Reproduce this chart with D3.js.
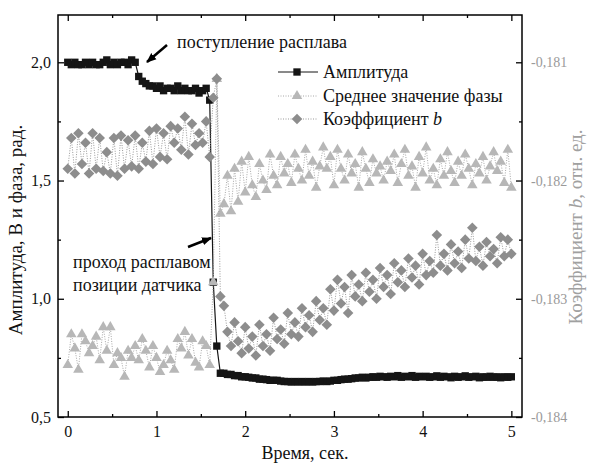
<!DOCTYPE html>
<html><head><meta charset="utf-8">
<script src="https://cdn.jsdelivr.net/npm/d3@7"></script>
<style>body{margin:0;background:#fff} svg{display:block}</style>
</head><body><svg id="c" width="590" height="463"></svg>
<script>
// ---- data ----
const times=[0,0.04,0.08,0.12,0.16,0.2,0.24,0.28,0.32,0.36,0.4,0.44,0.48,0.52,0.56,0.6,0.64,0.68,0.72,0.76,
0.8,0.84,0.88,0.92,0.96,1,1.04,1.08,1.12,1.16,1.2,1.24,1.28,1.32,1.36,1.4,1.44,1.48,1.52,1.56,
1.6,1.64,1.68,1.72,1.76,1.8,1.84,1.88,1.92,1.96,2,2.04,2.08,2.12,2.16,2.2,2.24,2.28,2.32,2.36,
2.4,2.44,2.48,2.52,2.56,2.6,2.64,2.68,2.72,2.76,2.8,2.84,2.88,2.92,2.96,3,3.04,3.08,3.12,3.16,
3.2,3.24,3.28,3.32,3.36,3.4,3.44,3.48,3.52,3.56,3.6,3.64,3.68,3.72,3.76,3.8,3.84,3.88,3.92,3.96,
4,4.04,4.08,4.12,4.16,4.2,4.24,4.28,4.32,4.36,4.4,4.44,4.48,4.52,4.56,4.6,4.64,4.68,4.72,4.76,
4.8,4.84,4.88,4.92,4.96,5];
const amplitude=[2.00,1.99,2.00,1.99,1.99,2.00,1.99,2.00,1.99,1.99,2.00,2.01,1.99,2.00,1.99,2.00,2.00,1.99,2.01,2.00,
1.94,1.92,1.91,1.90,1.90,1.89,1.90,1.88,1.89,1.89,1.88,1.90,1.88,1.89,1.88,1.88,1.89,1.87,1.88,1.89,
1.84,1.07,0.80,0.685,0.685,0.68,0.68,0.675,0.675,0.67,0.67,0.668,0.665,0.665,0.66,0.66,0.658,0.655,0.655,0.655,
0.652,0.65,0.65,0.648,0.65,0.648,0.65,0.648,0.65,0.648,0.65,0.65,0.652,0.65,0.652,0.655,0.655,0.658,0.66,0.66,
0.662,0.665,0.665,0.668,0.665,0.668,0.67,0.668,0.672,0.67,0.668,0.672,0.67,0.675,0.668,0.672,0.67,0.675,0.668,0.672,
0.67,0.672,0.668,0.67,0.674,0.668,0.672,0.67,0.666,0.672,0.668,0.67,0.674,0.668,0.67,0.672,0.666,0.67,0.668,0.672,
0.668,0.67,0.666,0.67,0.668,0.67];
const phase=[0.72,0.85,0.79,0.70,0.85,0.82,0.77,0.80,0.84,0.74,0.88,0.78,0.88,0.72,0.77,0.75,0.67,0.78,0.75,0.80,
0.74,0.83,0.78,0.71,0.80,0.75,0.69,0.72,0.78,0.74,0.70,0.83,0.79,0.86,0.76,0.83,0.73,0.71,0.82,0.80,
0.72,1.07,1.93,1.36,1.40,1.52,1.37,1.55,1.41,1.58,1.45,1.60,1.48,1.43,1.57,1.50,1.46,1.61,1.52,1.48,
1.60,1.53,1.57,1.49,1.61,1.55,1.50,1.63,1.52,1.58,1.47,1.56,1.64,1.55,1.60,1.48,1.63,1.55,1.50,1.61,
1.53,1.57,1.47,1.62,1.55,1.49,1.59,1.53,1.56,1.50,1.58,1.54,1.61,1.49,1.57,1.63,1.52,1.56,1.47,1.60,
1.53,1.64,1.50,1.55,1.48,1.59,1.52,1.62,1.54,1.49,1.58,1.52,1.61,1.55,1.48,1.57,1.53,1.60,1.50,1.56,
1.62,1.54,1.58,1.49,1.63,1.47];
const coefB=[-0.18190,-0.18164,-0.18194,-0.18160,-0.18186,-0.18168,-0.18194,-0.18160,-0.18190,-0.18164,-0.18192,-0.18176,-0.18194,-0.18164,-0.18196,-0.18162,-0.18190,-0.18166,-0.18188,-0.18162,
-0.18190,-0.18168,-0.18184,-0.18158,-0.18186,-0.18156,-0.18180,-0.18160,-0.18182,-0.18154,-0.18168,-0.18156,-0.18174,-0.18146,-0.18178,-0.18152,-0.18170,-0.18160,-0.18168,-0.18150,
-0.18180,-0.18130,-0.18114,-0.18298,-0.18306,-0.18328,-0.18340,-0.18320,-0.18336,-0.18346,-0.18324,-0.18342,-0.18332,-0.18348,-0.18322,-0.18340,-0.18330,-0.18344,-0.18316,-0.18334,
-0.18326,-0.18338,-0.18312,-0.18330,-0.18320,-0.18332,-0.18308,-0.18324,-0.18314,-0.18328,-0.18302,-0.18318,-0.18308,-0.18322,-0.18292,-0.18310,-0.18284,-0.18304,-0.18290,-0.18312,
-0.18280,-0.18298,-0.18288,-0.18302,-0.18278,-0.18294,-0.18284,-0.18300,-0.18274,-0.18290,-0.18280,-0.18296,-0.18270,-0.18286,-0.18276,-0.18290,-0.18266,-0.18282,-0.18272,-0.18288,
-0.18262,-0.18280,-0.18268,-0.18278,-0.18246,-0.18272,-0.18262,-0.18276,-0.18254,-0.18270,-0.18260,-0.18274,-0.18250,-0.18266,-0.18240,-0.18268,-0.18256,-0.18272,-0.18252,-0.18264,
-0.18258,-0.18270,-0.18248,-0.18264,-0.18250,-0.18262];
const xTicks=[0,1,2,3,4,5];
const xMinorTicks=[0.5,1.5,2.5,3.5,4.5];
const yLeftTicks=[0.5,1.0,1.5,2.0];
const yLeftMinor=[0.75,1.25,1.75];
const yRightTicks=[-0.184,-0.183,-0.182,-0.181];
const yRightMinor=[-0.1835,-0.1825,-0.1815];
const legendLabels=["Амплитуда","Среднее значение фазы","Коэффициент "];

// ---- layout ----
const FONT='"Liberation Serif", "Times New Roman", Tinos';
const svg=d3.select("#c");
const M={l:58,r:522,t:15,b:417};
const x=d3.scaleLinear().domain([-0.11,5.12]).range([M.l,M.r]);
const yL=d3.scaleLinear().domain([0.5,2.2]).range([M.b,M.t]);
const yR=d3.scaleLinear().domain([-0.184,-0.1806]).range([M.b,M.t]);
const loc=d3.formatLocale({decimal:",",thousands:" ",grouping:[3],currency:["",""],minus:"-"});

function styleAxis(g,size,color){
  g.attr("font-family",null);
  g.select(".domain").remove();
  g.selectAll("line").attr("stroke","#000").attr("stroke-width",1.3);
  g.selectAll("text").style("font-size",size+"px").attr("fill",color).style("font-family",FONT);
}
svg.append("g").attr("transform",`translate(0,${M.b})`)
  .call(d3.axisBottom(x).tickValues(xTicks).tickSize(-6).tickPadding(9).tickFormat(loc.format("d")))
  .call(g=>styleAxis(g,16,"#111"));
svg.append("g").attr("transform",`translate(0,${M.b})`)
  .call(d3.axisBottom(x).tickValues(xMinorTicks).tickSize(-3).tickFormat(""))
  .call(g=>styleAxis(g,16,"#111"));
svg.append("g").attr("transform",`translate(0,${M.t})`)
  .call(d3.axisTop(x).tickValues(xTicks).tickSize(-6).tickFormat(""))
  .call(g=>styleAxis(g,16,"#111"));
svg.append("g").attr("transform",`translate(0,${M.t})`)
  .call(d3.axisTop(x).tickValues(xMinorTicks).tickSize(-3).tickFormat(""))
  .call(g=>styleAxis(g,16,"#111"));
svg.append("g").attr("transform",`translate(${M.l},0)`)
  .call(d3.axisLeft(yL).tickValues(yLeftTicks).tickSize(-6).tickPadding(7).tickFormat(loc.format(".1f")))
  .call(g=>styleAxis(g,16,"#111"));
svg.append("g").attr("transform",`translate(${M.l},0)`)
  .call(d3.axisLeft(yL).tickValues(yLeftMinor).tickSize(-3).tickFormat(""))
  .call(g=>styleAxis(g,16,"#111"));
svg.append("g").attr("transform",`translate(${M.r},0)`)
  .call(d3.axisRight(yR).tickValues(yRightTicks).tickSize(-6).tickPadding(9).tickFormat(loc.format(".3f")))
  .call(g=>styleAxis(g,14,"#9a9a9a"));
svg.append("g").attr("transform",`translate(${M.r},0)`)
  .call(d3.axisRight(yR).tickValues(yRightMinor).tickSize(-3).tickFormat(""))
  .call(g=>styleAxis(g,14,"#9a9a9a"));

svg.append("rect").attr("x",M.l).attr("y",M.t).attr("width",M.r-M.l).attr("height",M.b-M.t)
  .attr("fill","none").attr("stroke","#000").attr("stroke-width",1.5);

// ---- series ----
const ampData=times.map((t,i)=>[t,amplitude[i]]);
const phData=times.map((t,i)=>[t,phase[i]]);
const bData=times.map((t,i)=>[t,coefB[i]]);

const sqSym=d3.symbol().type(d3.symbolSquare).size(54);
const triSym=d3.symbol().type(d3.symbolTriangle).size(48);
const diaSym=d3.symbol().type(d3.symbolSquare).size(56);

const COL_A="#151515", COL_P="#b7b7b7", COL_B="#8d8d8d";

svg.append("path").datum(ampData).attr("fill","none").attr("stroke",COL_A).attr("stroke-width",1.2)
  .attr("d",d3.line().x(d=>x(d[0])).y(d=>yL(d[1])));
svg.append("g").selectAll("path").data(ampData).join("path")
  .attr("transform",d=>`translate(${x(d[0])},${yL(d[1])})`).attr("d",sqSym).attr("fill",COL_A);

svg.append("path").datum(phData).attr("fill","none").attr("stroke","#a8a8a8").attr("stroke-width",1)
  .attr("stroke-dasharray","1,1.5")
  .attr("d",d3.line().x(d=>x(d[0])).y(d=>yL(d[1])));
svg.append("g").selectAll("path").data(phData).join("path")
  .attr("transform",d=>`translate(${x(d[0])},${yL(d[1])})`).attr("d",triSym).attr("fill",COL_P);

svg.append("path").datum(bData).attr("fill","none").attr("stroke","#999").attr("stroke-width",1)
  .attr("stroke-dasharray","1,1.5")
  .attr("d",d3.line().x(d=>x(d[0])).y(d=>yR(d[1])));
svg.append("g").selectAll("path").data(bData).join("path")
  .attr("transform",d=>`translate(${x(d[0])},${yR(d[1])}) rotate(45)`).attr("d",diaSym).attr("fill",COL_B);

// ---- text helper ----
function txt(sel,size,color){return sel.style("font-family",FONT).style("font-size",size+"px").attr("fill",color);}

// ---- legend ----
const legY=[72,96,119];
const lg=svg.append("g");
lg.append("line").attr("x1",278).attr("x2",318).attr("y1",legY[0]).attr("y2",legY[0]).attr("stroke",COL_A);
lg.append("path").attr("transform",`translate(297,${legY[0]})`).attr("d",sqSym).attr("fill",COL_A);
lg.append("line").attr("x1",278).attr("x2",318).attr("y1",legY[1]).attr("y2",legY[1]).attr("stroke","#a8a8a8").attr("stroke-dasharray","1,1.5");
lg.append("path").attr("transform",`translate(297,${legY[1]})`).attr("d",triSym).attr("fill",COL_P);
lg.append("line").attr("x1",278).attr("x2",318).attr("y1",legY[2]).attr("y2",legY[2]).attr("stroke","#999").attr("stroke-dasharray","1,1.5");
lg.append("path").attr("transform",`translate(297,${legY[2]}) rotate(45)`).attr("d",diaSym).attr("fill",COL_B);
legendLabels.forEach((s,i)=>{
  const t=txt(lg.append("text").attr("x",323).attr("y",legY[i]+5.5),18,"#111").text(s);
  if(i===2) t.append("tspan").style("font-style","italic").text("b");
});

// ---- titles ----
txt(svg.append("text").attr("transform","translate(22,230) rotate(-90)").attr("text-anchor","middle"),19,"#111")
  .text("Амплитуда, В и фаза, рад.");
const rt=txt(svg.append("text").attr("transform","translate(582,227) rotate(-90)").attr("text-anchor","middle"),19,"#a0a0a0")
  .text("Коэффициент ");
rt.append("tspan").style("font-style","italic").text("b");
rt.append("tspan").text(", отн. ед.");
txt(svg.append("text").attr("x",305).attr("y",459).attr("text-anchor","middle"),18,"#111").text("Время,  сек.");

// ---- annotations ----
const defs=svg.append("defs");
defs.append("marker").attr("id","ah").attr("viewBox","0 0 10 10").attr("refX",9).attr("refY",5)
  .attr("markerWidth",4).attr("markerHeight",4).attr("orient","auto")
  .append("path").attr("d","M0,1 L10,5 L0,9 Z").attr("fill","#000");
txt(svg.append("text").attr("x",177).attr("y",48),18,"#111").text("поступление расплава");
svg.append("line").attr("x1",167).attr("y1",45).attr("x2",147).attr("y2",62).attr("stroke","#000").attr("stroke-width",2.5).attr("marker-end","url(#ah)");
txt(svg.append("text").attr("x",73).attr("y",268),18,"#111").text("проход расплавом");
txt(svg.append("text").attr("x",73).attr("y",291),18,"#111").text("позиции датчика");
svg.append("line").attr("x1",188).attr("y1",247).attr("x2",211).attr("y2",238).attr("stroke","#000").attr("stroke-width",2.5).attr("marker-end","url(#ah)");
</script></body></html>
